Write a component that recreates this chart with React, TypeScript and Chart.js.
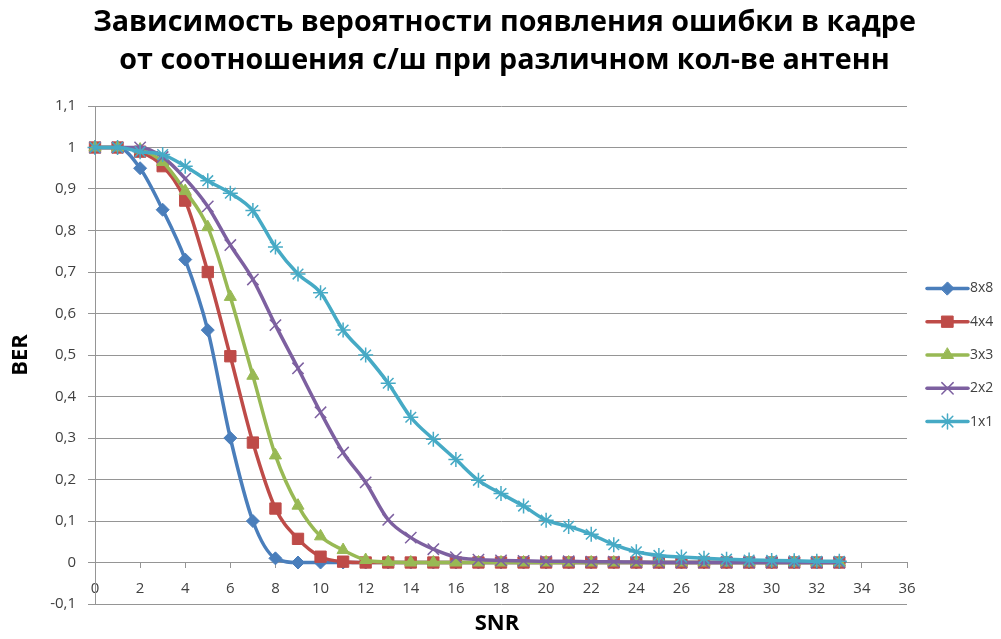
import React, { useEffect, useRef } from "react";
import { Chart, registerables } from "chart.js";
import { drawPoint } from "chart.js/helpers";

Chart.register(...registerables);

const SNR = [0, 1, 2, 3, 4, 5, 6, 7, 8, 9, 10, 11, 12, 13, 14, 15, 16, 17, 18, 19, 20, 21, 22, 23, 24, 25, 26, 27, 28, 29, 30, 31, 32, 33];

const BER_8x8 = [1, 1, 0.95, 0.85, 0.73, 0.56, 0.3, 0.1, 0.01, 0, 0, 0, 0, 0, 0, 0, 0, 0, 0, 0, 0, 0, 0, 0, 0, 0, 0, 0, 0, 0, 0, 0, 0, 0];
const BER_4x4 = [1, 1, 0.99, 0.955, 0.872, 0.7, 0.497, 0.289, 0.13, 0.057, 0.014, 0.002, 0, 0, 0, 0, 0, 0, 0, 0, 0, 0, 0, 0, 0, 0, 0, 0, 0, 0, 0, 0, 0, 0];
const BER_3x3 = [1, 1, 0.995, 0.965, 0.895, 0.808, 0.64, 0.45, 0.258, 0.137, 0.063, 0.03, 0.006, 0.001, 0, 0, 0, 0, 0, 0, 0, 0, 0, 0, 0, 0, 0, 0, 0, 0, 0, 0, 0, 0];
const BER_2x2 = [1, 1, 1, 0.977, 0.925, 0.858, 0.765, 0.682, 0.572, 0.468, 0.362, 0.265, 0.193, 0.103, 0.06, 0.032, 0.013, 0.007, 0.005, 0.004, 0.003, 0.003, 0.002, 0.002, 0.001, 0, 0, 0, 0, 0, 0, 0, 0, 0];
const BER_1x1 = [1, 1, 0.99, 0.983, 0.955, 0.92, 0.89, 0.848, 0.76, 0.695, 0.65, 0.56, 0.5, 0.432, 0.35, 0.297, 0.248, 0.198, 0.166, 0.136, 0.102, 0.087, 0.068, 0.043, 0.026, 0.017, 0.013, 0.01, 0.008, 0.006, 0.005, 0.004, 0.003, 0.003];

const SERIES_LABELS = ["8x8", "4x4", "3x3", "2x2", "1x1"];
const SERIES_VALUES = [BER_8x8, BER_4x4, BER_3x3, BER_2x2, BER_1x1];

const TITLE_LINES = [
  "Зависимость вероятности появления ошибки в кадре",
  "от соотношения с/ш при различном кол-ве антенн",
];
const X_TITLE = "SNR";
const Y_TITLE = "BER";

const STYLES = [
  { color: "#4A7EBB", pointStyle: "rectRot", radius: 6.5, bw: 1 },
  { color: "#BE4B48", pointStyle: "rect", radius: 8, bw: 1 },
  { color: "#98B954", pointStyle: "triangle", radius: 7, bw: 1 },
  { color: "#7D60A0", pointStyle: "crossRot", radius: 8, bw: 1.5 },
  { color: "#46AAC5", pointStyle: "star", radius: 7.5, bw: 1.5 },
];

const FONT = "'Open Sans', 'DejaVu Sans', sans-serif";

const fmt = (v: number) => {
  const r = Number(Number(v).toFixed(1));
  return String(r).replace(".", ",");
};

const titles = {
  id: "titles",
  afterDraw(chart: any) {
    const ctx = chart.ctx;
    const area = chart.chartArea;
    ctx.save();
    ctx.fillStyle = "#000000";
    ctx.textAlign = "center";
    ctx.textBaseline = "alphabetic";
    ctx.font = `bold 28.7px ${FONT}`;
    const cx = chart.width / 2 + 4;
    ctx.fillText(TITLE_LINES[0], cx, 31);
    ctx.fillText(TITLE_LINES[1], cx, 69);
    ctx.font = `bold 22px ${FONT}`;
    ctx.textBaseline = "middle";
    ctx.fillText(X_TITLE, (area.left + area.right) / 2 - 4, 624);
    ctx.restore();
  },
};

const sideLegend = {
  id: "sideLegend",
  afterDraw(chart: any) {
    const ctx = chart.ctx;
    const area = chart.chartArea;
    const ds = chart.data.datasets;
    const gap = 33.3;
    const cy = (area.top + area.bottom) / 2;
    const x0 = area.right + 20;
    const x1 = x0 + 41;
    ctx.save();
    ds.forEach((d: any, i: number) => {
      const y = cy + (i - (ds.length - 1) / 2) * gap;
      ctx.strokeStyle = d.borderColor;
      ctx.lineWidth = d.borderWidth;
      ctx.lineCap = "round";
      ctx.beginPath();
      ctx.moveTo(x0, y);
      ctx.lineTo(x1, y);
      ctx.stroke();
      ctx.fillStyle = d.pointBackgroundColor;
      ctx.strokeStyle = d.pointBorderColor;
      ctx.lineWidth = d.pointBorderWidth;
      drawPoint(ctx, { pointStyle: d.pointStyle, radius: d.pointRadius, rotation: 0, borderWidth: d.pointBorderWidth }, (x0 + x1) / 2, y);
      ctx.fillStyle = "#404040";
      ctx.font = `14px ${FONT}`;
      ctx.textAlign = "left";
      ctx.textBaseline = "middle";
      ctx.fillText(d.label, x1 + 2, y);
    });
    ctx.restore();
  },
};

export default function App() {
  const ref = useRef<HTMLCanvasElement | null>(null);

  useEffect(() => {
    if (!ref.current) return;
    const datasets = SERIES_LABELS.map((label, i) => ({
      label,
      data: SNR.map((x, j) => ({ x, y: SERIES_VALUES[i][j] })),
      borderColor: STYLES[i].color,
      backgroundColor: STYLES[i].color,
      borderWidth: 3.5,
      pointStyle: STYLES[i].pointStyle,
      pointRadius: STYLES[i].radius,
      pointBackgroundColor: STYLES[i].color,
      pointBorderColor: STYLES[i].color,
      pointBorderWidth: STYLES[i].bw,
      cubicInterpolationMode: "monotone",
      order: SERIES_LABELS.length - 1 - i,
      clip: false,
    }));

    const chart = new Chart(ref.current, {
      type: "line",
      data: { datasets } as any,
      plugins: [titles, sideLegend],
      options: {
        responsive: false,
        animation: false,
        devicePixelRatio: 1,
        layout: { padding: { left: 0, right: 94, top: 106, bottom: 35 } },
        plugins: {
          legend: { display: false },
          tooltip: { enabled: false },
          title: { display: false },
        },
        scales: {
          x: {
            type: "linear",
            position: { y: 0 } as any,
            min: 0,
            max: 36,
            afterFit: (s: any) => {
              s.height = 0;
            },
            ticks: {
              stepSize: 2,
              autoSkip: false,
              maxRotation: 0,
              color: "#404040",
              font: { family: FONT, size: 15 },
              padding: 12,
            },
            grid: {
              display: true,
              drawOnChartArea: false,
              drawTicks: true,
              tickLength: 5,
              color: "#959595",
            },
            border: { display: true, color: "#959595", width: 1 },
          },
          y: {
            type: "linear",
            min: -0.1,
            max: 1.1,
            afterFit: (s: any) => {
              s.width = 95;
            },
            ticks: {
              stepSize: 0.1,
              color: "#404040",
              font: { family: FONT, size: 15 },
              padding: 12,
              callback: (v: any) => fmt(v),
            },
            grid: {
              color: "#959595",
              lineWidth: 1,
              drawTicks: true,
              tickLength: 7,
            },
            border: { display: true, color: "#959595", width: 1 },
            title: {
              display: true,
              text: Y_TITLE,
              color: "#000000",
              font: { family: FONT, size: 22, weight: "bold", lineHeight: 1.2 },
              padding: { top: 8, bottom: 0 },
            },
          },
        },
      } as any,
    });
    return () => chart.destroy();
  }, []);

  return (
    <div style={{ position: "absolute", left: 0, top: 0, width: 1001, height: 639, background: "#fff" }}>
      <canvas ref={ref} width={1001} height={639} style={{ width: 1001, height: 639, display: "block" }} />
    </div>
  );
}
